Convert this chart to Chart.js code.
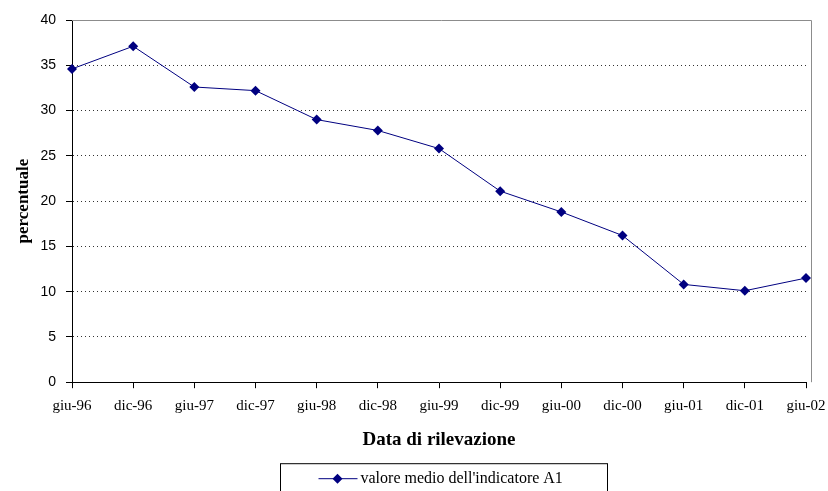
<!DOCTYPE html>
<html>
<head>
<meta charset="utf-8">
<script src="https://cdn.jsdelivr.net/npm/chart.js@4.4.1/dist/chart.umd.min.js"></script>
<style>
  html, body { margin: 0; padding: 0; background: #fff; }
  #wrap { width: 828px; height: 491px; }
</style>
</head>
<body>
<div id="wrap"><canvas id="chart" width="828" height="491"></canvas></div>
<script>
// rilevazioni semestrali
const labels = ["giu-96","dic-96","giu-97","dic-97","giu-98","dic-98","giu-99","dic-99","giu-00","dic-00","giu-01","dic-01","giu-02"];
const valori = [34.6, 37.1, 32.6, 32.2, 29.0, 27.8, 25.8, 21.1, 18.8, 16.2, 10.8, 10.1, 11.5];
const serieNome = "valore medio dell'indicatore A1";

const BLU = "#000080";
const SERIF = "'Liberation Serif', 'Times New Roman', serif";
const SANS = "'Liberation Sans', Arial, sans-serif";

// cornice grigia su lato alto e destro dell'area del grafico
const cornice = {
  id: "cornice",
  beforeDatasetsDraw(chart) {
    const { ctx, chartArea: a } = chart;
    ctx.save();
    ctx.strokeStyle = "#8c8c8c";
    ctx.lineWidth = 1;
    ctx.beginPath();
    ctx.moveTo(a.left, a.top + 0.5);
    ctx.lineTo(a.right + 5.5, a.top + 0.5);
    ctx.lineTo(a.right + 5.5, a.bottom);
    ctx.stroke();
    ctx.restore();
  }
};

// legenda con riquadro, disegnata sotto il titolo dell'asse x
const legendaBox = {
  id: "legendaBox",
  afterDraw(chart) {
    const { ctx, chartArea: a } = chart;
    const cx = (a.left + a.right) / 2 + 4;
    const top = a.bottom + 81;
    const w = 327, h = 34;
    const x0 = Math.round(cx - w / 2) + 0.5;
    ctx.save();
    ctx.strokeStyle = "#000";
    ctx.lineWidth = 1;
    ctx.strokeRect(x0, top + 0.5, w, h);
    // simbolo: linea + rombo
    const ly = top + 15.5;
    const lx = x0 + 38;
    ctx.strokeStyle = BLU;
    ctx.beginPath();
    ctx.moveTo(lx, ly);
    ctx.lineTo(lx + 39, ly);
    ctx.stroke();
    ctx.fillStyle = BLU;
    ctx.beginPath();
    ctx.moveTo(lx + 19, ly - 5);
    ctx.lineTo(lx + 24, ly);
    ctx.lineTo(lx + 19, ly + 5);
    ctx.lineTo(lx + 14, ly);
    ctx.closePath();
    ctx.fill();
    ctx.fillStyle = "#000";
    ctx.font = "16px " + SERIF;
    ctx.textBaseline = "middle";
    ctx.fillText(serieNome, lx + 42, ly);
    ctx.restore();
  }
};

new Chart(document.getElementById("chart"), {
  type: "line",
  data: {
    labels: labels,
    datasets: [{
      label: serieNome,
      data: valori,
      borderColor: BLU,
      backgroundColor: BLU,
      borderWidth: 1,
      pointStyle: "rectRot",
      pointRadius: 5,
      pointBorderWidth: 0,
      pointBackgroundColor: BLU,
      tension: 0
    }]
  },
  options: {
    responsive: false,
    animation: false,
    layout: { padding: { top: 20, right: 22, bottom: 40, left: 10 } },
    plugins: {
      legend: { display: false },
      tooltip: { enabled: false }
    },
    scales: {
      x: {
        offset: false,
        afterFit: (scale) => { scale.paddingLeft = 0; scale.paddingRight = 0; },
        grid: { drawOnChartArea: false, drawTicks: true, tickLength: 6, color: "#000" },
        border: { display: true, color: "#000", width: 1 },
        ticks: { color: "#000", font: { family: SERIF, size: 15 }, padding: 9, maxRotation: 0, autoSkip: false },
        title: {
          display: true,
          text: "Data di rilevazione",
          color: "#000",
          font: { family: SERIF, size: 19, weight: "bold" },
          padding: { top: 4, bottom: 0 }
        }
      },
      y: {
        min: 0,
        max: 40,
        afterFit: (scale) => { scale.width = 62; },
        grid: {
          drawTicks: true,
          tickLength: 6,
          tickColor: "#000",
          color: (c) => (c.tick && (c.tick.value === 0 || c.tick.value === 40)) ? "rgba(0,0,0,0)" : "#333"
        },
        border: { display: true, color: "#000", width: 1, dash: [1, 3] },
        ticks: { stepSize: 5, color: "#000", font: { family: SANS, size: 14 }, padding: 10 },
        title: {
          display: true,
          text: "percentuale",
          color: "#000",
          font: { family: SERIF, size: 17, weight: "bold" },
          padding: { top: 3, bottom: 4 }
        }
      }
    }
  },
  plugins: [cornice, legendaBox]
});
</script>
</body>
</html>
